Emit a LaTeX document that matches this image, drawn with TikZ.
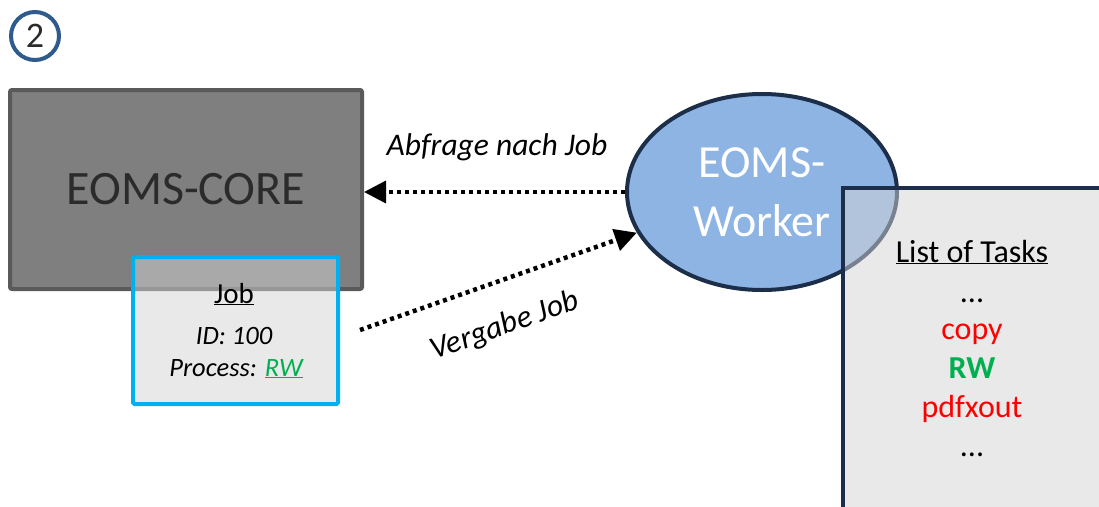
\documentclass[tikz,border=0pt]{standalone}
\usepackage{fontspec}
\setmainfont{Carlito}
\usetikzlibrary{shapes.geometric,arrows.meta}
\definecolor{coregray}{HTML}{7F7F7F}
\definecolor{coreedge}{HTML}{5A5A5A}
\definecolor{coretext}{HTML}{2B2B2B}
\definecolor{jobcyan}{HTML}{00B0F0}
\definecolor{boxfill}{HTML}{D4D4D4}
\definecolor{workerfill}{HTML}{8EB4E3}
\definecolor{navy}{HTML}{1C2E4A}
\definecolor{badge}{HTML}{2F5A8C}
\definecolor{taskred}{HTML}{FF0000}
\definecolor{taskgreen}{HTML}{00B050}
\tikzset{
  corebox/.style={draw=coreedge, line width=4pt, fill=coregray, rounded corners=2pt, minimum width=352pt, minimum height=199pt, inner sep=0pt},
  jobbox/.style={draw=jobcyan, line width=4pt, fill=boxfill, fill opacity=0.5, draw opacity=1, text opacity=1, rounded corners=1.5pt, minimum width=205pt, minimum height=147pt, inner sep=0pt},
  listbox/.style={draw=navy, line width=4pt, fill=boxfill, fill opacity=0.5, draw opacity=1},
  workerell/.style={ellipse, draw=navy, line width=4pt, fill=workerfill, minimum width=270pt, minimum height=196pt, inner sep=0pt},
  dotarrow/.style={line width=4pt, dash pattern=on 4pt off 4pt, -{Triangle[length=22pt,width=22pt]}},
  lbl/.style={font=\fontsize{31.5}{34}\selectfont\itshape, text=black},
  tasktxt/.style={font=\fontsize{32}{35}\selectfont, inner sep=0pt, anchor=base}
}
\begin{document}
\begin{tikzpicture}[x=1pt,y=-1pt]
\useasboundingbox (0,0) rectangle (1099,506);
% badge
\node[circle, draw=badge, line width=4pt, minimum size=48pt, inner sep=0pt, font=\fontsize{36}{36}\selectfont, text=coretext] (badge) at (35,36) {2};
% core
\node[corebox, font=\fontsize{48}{50}\selectfont, text=coretext] (core) at (186,189.5) {EOMS-CORE};
% job box
\node[jobbox] (job) at (235.5,330.5) {};
\node[font=\fontsize{29}{32}\selectfont, anchor=base, inner sep=0pt] (jobtitle) at (234,303) {\underline{Job}};
\node[font=\fontsize{26.5}{30}\selectfont\itshape, anchor=base, inner sep=0pt] (jobid) at (234,344) {ID: 100};
\node[font=\fontsize{26.5}{30}\selectfont\itshape, anchor=base, inner sep=0pt] (jobproc) at (236,376) {Process: \textcolor{taskgreen}{\underline{RW}}};
% worker
\node[workerell, text=white, align=center, font=\fontsize{46}{59}\selectfont] (worker) at (762,192) {EOMS-\\Worker};
% list box
\draw[listbox] (843,188) rectangle (1115,515);
\node[tasktxt, text=black] (listtitle) at (972,262) {\underline{List of Tasks}};
\node[tasktxt, text=black] (d1) at (972,302) {...};
\node[tasktxt, text=taskred] (copy) at (972,339) {copy};
\node[tasktxt, text=taskgreen, font=\fontsize{32}{35}\selectfont\bfseries] (rw) at (972,378) {RW};
\node[tasktxt, text=taskred] (pdf) at (972,417) {pdfxout};
\node[tasktxt, text=black] (d2) at (972,456) {...};
% arrows
\draw[dotarrow, line width=3.5pt] (worker.west) -- (worker.west -| core.east);
\node[lbl] (abfrage) at (497,147) {Abfrage nach Job};
\coordinate (vstart) at (360,330);
\draw[dotarrow, line width=4.5pt] (vstart) -- (worker.198);
\node[lbl, rotate=19.5] (vergabe) at (505,326) {Vergabe Job};
\end{tikzpicture}
\end{document}
